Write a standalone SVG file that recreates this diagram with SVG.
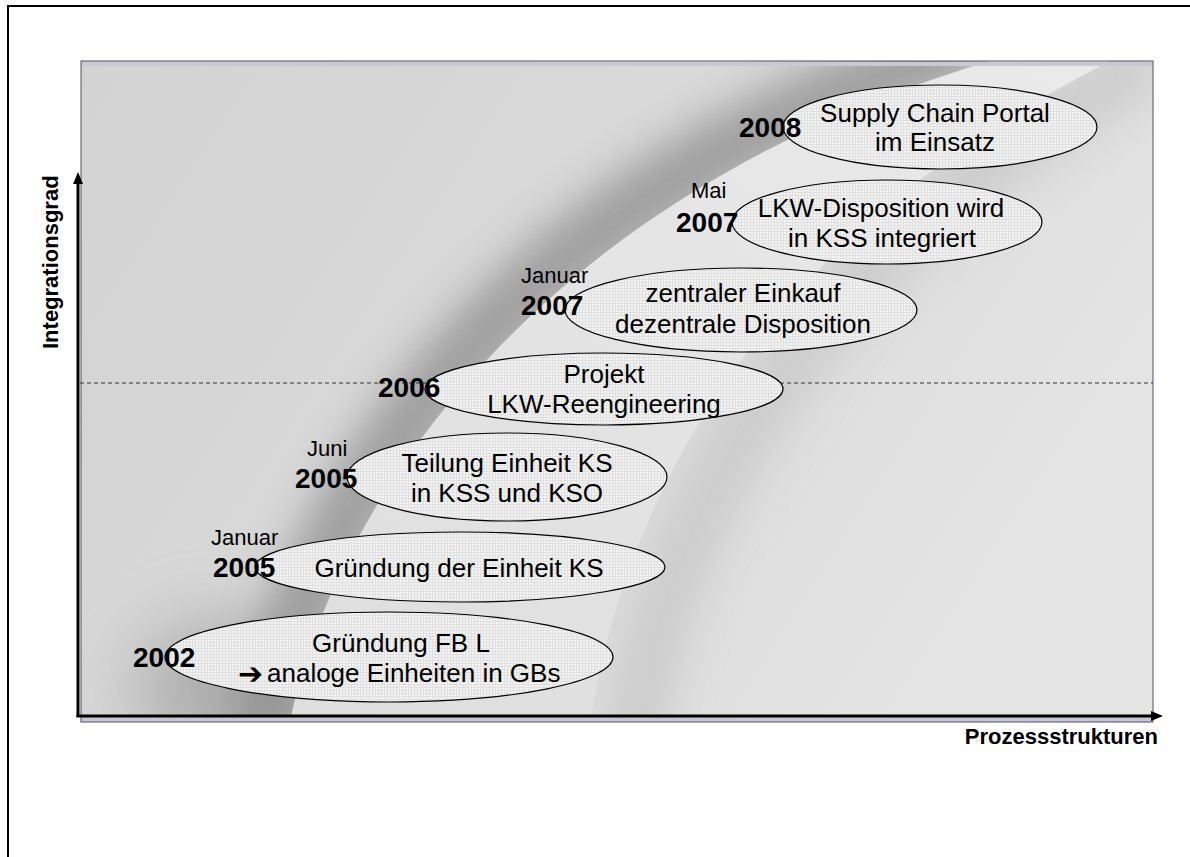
<svg xmlns="http://www.w3.org/2000/svg" width="1190" height="857" viewBox="0 0 1190 857">
  <style>
    .bubble { fill: url(#mesh); stroke: #000; stroke-width: 1.2; }
    .txt { font-family: "Liberation Sans", Arial, sans-serif; font-size: 26px; fill: #000; text-anchor: middle; }
    .year { font-family: "Liberation Sans", Arial, sans-serif; font-size: 28px; font-weight: bold; fill: #000; }
    .month { font-family: "Liberation Sans", Arial, sans-serif; font-size: 22px; fill: #000; }
    .axis-label { font-family: "Liberation Sans", Arial, sans-serif; font-size: 22px; font-weight: bold; fill: #000; }
    .axis { stroke: #000; stroke-width: 3; fill: none; }
  </style>
  <defs>
    <linearGradient id="baseGrad" x1="0" y1="0" x2="1" y2="0.4">
      <stop offset="0" stop-color="#d3d3d3"/>
      <stop offset="0.6" stop-color="#dadada"/>
      <stop offset="1" stop-color="#e4e4e4"/>
    </linearGradient>
    <linearGradient id="bandGrad" x1="0" y1="1" x2="1" y2="0">
      <stop offset="0" stop-color="#dedede"/>
      <stop offset="0.5" stop-color="#e4e4e4"/>
      <stop offset="1" stop-color="#eaeaea"/>
    </linearGradient>
    <clipPath id="photoClip"><rect x="81" y="61" width="1072" height="661"/></clipPath>
    <clipPath id="leftOfEdge"><path d="M 290 722 C 335 500 540 195 990 61 L 81 61 L 81 722 Z"/></clipPath>
    <clipPath id="rightOfEdge"><path d="M 590 722 C 620 540 720 260 1110 61 L 1153 61 L 1153 722 Z"/></clipPath>
    <filter id="soft" x="-50%" y="-50%" width="200%" height="200%"><feGaussianBlur stdDeviation="20"/></filter>
    <filter id="softer" x="-50%" y="-50%" width="200%" height="200%"><feGaussianBlur stdDeviation="35"/></filter>
    <pattern id="mesh" width="3" height="3" patternUnits="userSpaceOnUse">
      <rect width="3" height="3" fill="#f4f4f4"/>
      <path d="M0 0.5H3M0.5 0V3" stroke="#e0e0e0" stroke-width="1"/>
    </pattern>
    <marker id="head" viewBox="0 0 12 10" refX="4" refY="5" markerWidth="12" markerHeight="10" orient="auto" markerUnits="userSpaceOnUse">
      <path d="M0 0L12 5L0 10Z" fill="#000"/>
    </marker>
  </defs>

  <!-- page frame -->
  <path id="frame" d="M 8 857 V 6 H 1190" fill="none" stroke="#000" stroke-width="2"/>

  <!-- grey backdrop with the curved swoosh -->
  <g id="backdrop">
    <rect x="81" y="61" width="1072" height="661" fill="url(#baseGrad)"/>
    <g clip-path="url(#photoClip)">
      <!-- light ribbon between the two curves -->
      <path d="M 290 722 C 335 500 540 195 990 61 L 1110 61 C 720 260 620 540 590 722 Z" fill="url(#bandGrad)"/>
      <!-- shadow left of the sharp edge -->
      <g clip-path="url(#leftOfEdge)">
        <path d="M 262 750 C 305 505 515 185 975 45" fill="none" stroke="#8c8c8c" stroke-width="70" filter="url(#soft)" opacity="0.75"/>
        <ellipse cx="225" cy="690" rx="90" ry="70" fill="#8a8a8a" filter="url(#softer)" opacity="0.55"/>
      </g>
      <!-- soft shade right of the outer curve -->
      <g clip-path="url(#rightOfEdge)">
        <path d="M 630 760 C 660 550 760 280 1150 60" fill="none" stroke="#c8c8c8" stroke-width="60" filter="url(#soft)" opacity="0.8"/>
      </g>
    </g>
    <rect x="81" y="62" width="1072" height="4" fill="#c9c9d6"/>
    <rect x="81" y="717" width="1072" height="5" fill="#c6c6d4"/>
    <rect x="81" y="61" width="1072" height="661" fill="none" stroke="#50506a" stroke-width="1"/>
  </g>

  <!-- axes and reference line -->
  <g id="connectors">
    <line x1="80" y1="383" x2="1153" y2="383" stroke="#333" stroke-width="1" stroke-dasharray="4 3"/>
    <line class="axis" x1="78" y1="717" x2="78" y2="180" marker-end="url(#head)"/>
    <line class="axis" x1="76.5" y1="716" x2="1155" y2="716" marker-end="url(#head)"/>
  </g>

  <g id="axis-y-label">
    <text class="axis-label" transform="translate(58 349) rotate(-90)">Integrationsgrad</text>
  </g>
  <g id="axis-x-label">
    <text class="axis-label" x="1158" y="744" text-anchor="end">Prozessstrukturen</text>
  </g>

  <g id="node-2002">
    <ellipse class="bubble" cx="389" cy="657" rx="224" ry="45"/>
    <text class="txt" x="401" y="652">Gründung FB L</text>
    <text class="txt" style="text-anchor:start"><tspan x="238" y="684" style="font-family:'DejaVu Sans',sans-serif;font-size:30px;font-weight:bold">➔</tspan><tspan x="267" y="682">analoge Einheiten in GBs</tspan></text>
    <text class="year" x="133" y="667">2002</text>
  </g>

  <g id="node-2005-jan">
    <ellipse class="bubble" cx="460" cy="567" rx="205" ry="35"/>
    <text class="txt" x="459" y="577">Gründung der Einheit KS</text>
    <text class="month" x="211" y="545">Januar</text>
    <text class="year" x="213" y="577">2005</text>
  </g>

  <g id="node-2005-jun">
    <ellipse class="bubble" cx="507" cy="477" rx="160" ry="44"/>
    <text class="txt" x="507" y="472">Teilung Einheit KS</text>
    <text class="txt" x="507" y="502">in KSS und KSO</text>
    <text class="month" x="307" y="456">Juni</text>
    <text class="year" x="295" y="488">2005</text>
  </g>

  <g id="node-2006">
    <ellipse class="bubble" cx="604" cy="389" rx="179" ry="36"/>
    <text class="txt" x="604" y="383">Projekt</text>
    <text class="txt" x="604" y="413">LKW-Reengineering</text>
    <text class="year" x="378" y="397">2006</text>
  </g>

  <g id="node-2007-jan">
    <ellipse class="bubble" cx="741" cy="310" rx="176" ry="42"/>
    <text class="txt" x="743" y="302">zentraler Einkauf</text>
    <text class="txt" x="743" y="333">dezentrale Disposition</text>
    <text class="month" x="521" y="283">Januar</text>
    <text class="year" x="521" y="315">2007</text>
  </g>

  <g id="node-2007-mai">
    <ellipse class="bubble" cx="887" cy="222" rx="155" ry="42"/>
    <text class="txt" x="881" y="217">LKW-Disposition wird</text>
    <text class="txt" x="882" y="247">in KSS integriert</text>
    <text class="month" x="691" y="198">Mai</text>
    <text class="year" x="676" y="232">2007</text>
  </g>

  <g id="node-2008">
    <ellipse class="bubble" cx="940" cy="127" rx="157" ry="42"/>
    <text class="txt" x="935" y="122">Supply Chain Portal</text>
    <text class="txt" x="935" y="151">im Einsatz</text>
    <text class="year" x="739" y="137">2008</text>
  </g>
</svg>
